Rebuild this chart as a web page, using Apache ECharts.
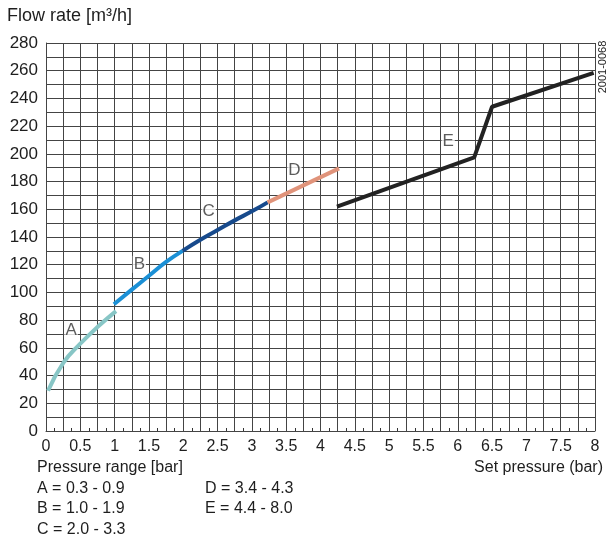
<!DOCTYPE html>
<html>
<head>
<meta charset="utf-8">
<script src="https://cdn.jsdelivr.net/npm/echarts@6/dist/echarts.min.js"></script>
<style>
html,body{margin:0;padding:0;background:#fff;}
#chart{width:609px;height:556px;}
</style>
</head>
<body>
<div id="chart"></div>
<script>
// Data
var curveA = [[0.03,29],[0.25,49],[0.5,63],[0.75,75],[1.02,86.5]];
var curveB = [[0.99,91.5],[1.25,102],[1.5,112],[1.75,122],[1.99,130]];
var curveC = [[1.99,130],[2.25,138],[2.5,145],[2.75,152],[3.0,158.5],[3.23,165]];
var curveD = [[3.23,165],[4.27,189.5]];
var curveE = [[4.24,162],[6.24,197.5],[6.5,234],[7.98,258.5]];
var curveLabels = ['A','B','C','D','E'];
var curveLabelX = [0.365,1.36,2.37,3.62,5.86];
var curveLabelY = [72.9,120.3,158.7,188.3,208.7];
var legendLines = ['A = 0.3 - 0.9','B = 1.0 - 1.9','C = 2.0 - 3.3','D = 3.4 - 4.3','E = 4.4 - 8.0'];
var yTitle = 'Flow rate [m³/h]';
var xTitle = 'Set pressure (bar)';
var legendTitle = 'Pressure range [bar]';
var docCode = '2001-0068';

var FONT = '"Liberation Sans", Arial, sans-serif';
var TXT = '#1e1e1e';
var GRID = '#444';

var chart = echarts.init(document.getElementById('chart'), null, {renderer:'canvas'});

function lineSeries(name, data, color, smooth){
  return {name:name, type:'line', data:data, smooth:smooth, showSymbol:false, symbol:'none',
    lineStyle:{color:color, width:4, cap:'butt'}, z:5, silent:true};
}

var labelData = curveLabels.map(function(n,i){return {name:n, value:[curveLabelX[i], curveLabelY[i]]};});

var graphics = [
  {type:'text', left:7, top:7, style:{text:yTitle, font:'18px '+FONT, fill:TXT}},
  {type:'text', right:6, top:460, style:{text:xTitle, font:'16px '+FONT, fill:TXT}},
  {type:'text', left:37, top:460, style:{text:legendTitle, font:'16px '+FONT, fill:TXT}},
  {type:'text', left:37, top:481, style:{text:legendLines[0], font:'16px '+FONT, fill:TXT}},
  {type:'text', left:37, top:501, style:{text:legendLines[1], font:'16px '+FONT, fill:TXT}},
  {type:'text', left:37, top:522, style:{text:legendLines[2], font:'16px '+FONT, fill:TXT}},
  {type:'text', left:205, top:481, style:{text:legendLines[3], font:'16px '+FONT, fill:TXT}},
  {type:'text', left:205, top:501, style:{text:legendLines[4], font:'16px '+FONT, fill:TXT}},
  {type:'text', x:603, y:67, rotation:Math.PI/2,
    style:{text:docCode, font:'11px '+FONT, fill:TXT, align:'center', verticalAlign:'middle'}}
];

var option = {
  animation:false,
  backgroundColor:'#fff',
  grid:{left:46, right:14, top:43, bottom:125, containLabel:false},
  xAxis:{type:'value', min:0, max:8, interval:0.25,
    axisLine:{show:true, lineStyle:{color:GRID, width:1}},
    axisTick:{show:false, inside:true},
    minorTick:{show:true, splitNumber:2, length:3, lineStyle:{color:'#333'}},
    axisLabel:{margin:8, color:TXT, fontFamily:FONT, fontSize:16,
      formatter:function(v){ return (Math.abs(v*2-Math.round(v*2))<1e-6) ? String(v) : ''; }},
    splitLine:{show:true, lineStyle:{color:GRID, width:1}}
  },
  yAxis:{type:'value', min:0, max:280, interval:10,
    axisLine:{show:true, lineStyle:{color:GRID, width:1}},
    axisTick:{show:false},
    axisLabel:{margin:8, color:TXT, fontFamily:FONT, fontSize:17,
      formatter:function(v){ return v%20===0 ? String(v) : ''; }},
    splitLine:{show:true, lineStyle:{color:GRID, width:1}}
  },
  graphic:graphics,
  series:[
    lineSeries('A', curveA, '#88c6c6', true),
    lineSeries('B', curveB, '#1b90d6', true),
    lineSeries('C', curveC, '#174a8c', true),
    lineSeries('D', curveD, '#e0937a', false),
    lineSeries('E', curveE, '#222222', false),
    {type:'scatter', data:labelData, symbolSize:0, silent:true, z:6,
      label:{show:true, position:'inside', formatter:'{b}', color:'#333', fontFamily:FONT, fontSize:17,
        backgroundColor:'#fff', padding:[0,1]}}
  ]
};
chart.setOption(option);
</script>
</body>
</html>
